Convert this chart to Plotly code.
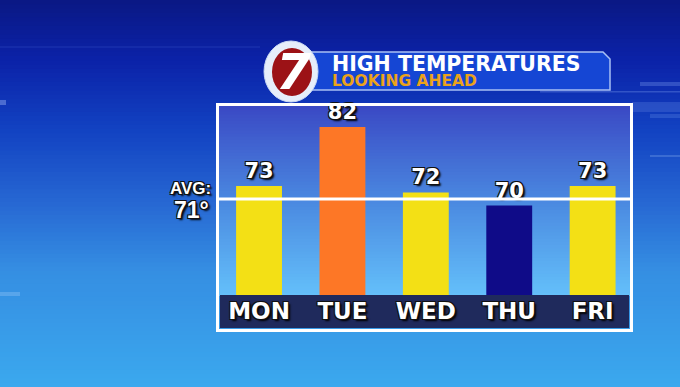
import plotly.graph_objects as go

# ---------------- data ----------------
days = ["MON", "TUE", "WED", "THU", "FRI"]
highs = [73, 82, 72, 70, 73]
bar_colors = ["#f3e015", "#fd7726", "#f3e015", "#0f0b88", "#f3e015"]
avg_temp = 71
avg_label = "AVG:"
title_main = "HIGH TEMPERATURES"
title_sub = "LOOKING AHEAD"
logo_text = "7"

W, H = 680, 387


def px(x):
    return x / W


def py(y):
    return 1 - y / H


def hex2rgb(h):
    h = h.lstrip("#")
    return tuple(int(h[i:i + 2], 16) for i in (0, 2, 4))


def interp(stops, t):
    for (t0, c0), (t1, c1) in zip(stops[:-1], stops[1:]):
        if t0 <= t <= t1:
            f = (t - t0) / (t1 - t0) if t1 > t0 else 0
            a, b = hex2rgb(c0), hex2rgb(c1)
            return "rgb(%d,%d,%d)" % tuple(round(a[i] + (b[i] - a[i]) * f) for i in range(3))
    return stops[-1][1]


def gradient(x0, x1, y0, y1, stops, n=60):
    out = []
    step = (y1 - y0) / n
    for i in range(n):
        ya = y0 + i * step
        yb = ya + step + 0.8
        col = interp(stops, ya + step / 2)
        out.append(dict(type="rect", xref="paper", yref="paper", layer="below",
                        x0=px(x0), x1=px(x1), y0=py(min(yb, y1)), y1=py(ya),
                        fillcolor=col, line=dict(width=0)))
    return out


def prect(x0, x1, y0, y1, color, layer="below"):
    return dict(type="rect", xref="paper", yref="paper", layer=layer,
                x0=px(x0), x1=px(x1), y0=py(y1), y1=py(y0),
                fillcolor=color, line=dict(width=0))


shapes = []
# page background
shapes += gradient(0, W, 0, H, [(0, "#0a1884"), (60, "#0b22a8"), (130, "#1242c2"),
                                (200, "#2666d2"), (270, "#358ee2"), (387, "#3ba8ee")], n=90)
# faint decorative streaks
for (a, b, c, d, col) in [
    (0, 260, 46, 48, "rgba(120,150,255,0.10)"),
    (540, 680, 91, 92.5, "rgba(160,190,255,0.25)"),
    (640, 680, 82, 86, "rgba(160,190,255,0.25)"),
    (632, 680, 102, 112, "rgba(150,190,255,0.18)"),
    (650, 680, 114, 118, "rgba(150,190,255,0.18)"),
    (0, 6, 100, 105, "rgba(190,210,255,0.35)"),
    (0, 20, 292, 296, "rgba(190,220,255,0.25)"),
    (650, 680, 155, 157, "rgba(190,220,255,0.20)"),
]:
    shapes.append(prect(a, b, c, d, col))
# plot panel background
shapes += gradient(219, 630, 105, 296, [(105, "#3a48c4"), (200, "#4a88e0"), (296, "#64c0fa")], n=60)
# bottom label band
shapes.append(prect(220, 629, 295, 328, "#1f2a5c"))
# frame
shapes.append(dict(type="rect", xref="paper", yref="paper", layer="above",
                   x0=px(217.5), x1=px(631.5), y0=py(330.5), y1=py(104.5),
                   fillcolor="rgba(0,0,0,0)", line=dict(color="white", width=3)))
# average line
shapes.append(dict(type="line", xref="paper", yref="y", layer="above",
                   x0=px(219), x1=px(630), y0=avg_temp, y1=avg_temp,
                   line=dict(color="white", width=3)))
# title banner
bx0, bx1, by0, by1, ch = 300, 610, 52, 90, 7
path = "M %f,%f L %f,%f L %f,%f L %f,%f L %f,%f Z" % (
    px(bx0), py(by0), px(bx1 - ch), py(by0), px(bx1), py(by0 + ch),
    px(bx1), py(by1), px(bx0), py(by1))
shapes.append(dict(type="path", xref="paper", yref="paper", layer="above", path=path,
                   fillcolor="#1546d4", line=dict(color="#a8c0f4", width=1.5)))
# logo
shapes.append(dict(type="circle", xref="paper", yref="paper", layer="above",
                   x0=px(264), x1=px(318), y0=py(102), y1=py(41),
                   fillcolor="#e6eefa", line=dict(color="#c8d8f4", width=1)))
shapes.append(dict(type="circle", xref="paper", yref="paper", layer="above",
                   x0=px(272), x1=px(312), y0=py(96), y1=py(48),
                   fillcolor="#9c1216", line=dict(width=0)))

outline = "-1px -1px 0 #111, 1px -1px 0 #111, -1px 1px 0 #111, 1px 1px 0 #111, 2px 2px 2px #000"

fig = go.Figure()
fig.add_trace(go.Bar(
    x=days, y=highs, marker=dict(color=bar_colors, line=dict(width=0)),
    width=0.55, texttemplate="%{y}", textposition="outside", cliponaxis=False,
    constraintext="none",
    textfont=dict(family="DejaVu Sans", size=21, color="white", weight="bold", shadow=outline),
    hoverinfo="skip",
))

title_text = ("<span style='font-size:20.5px'>%s</span><br>"
              "<span style='font-size:15.5px;color:#eba21a'>%s</span>" % (title_main, title_sub))

annotations = [
    dict(text=title_text, x=px(331), y=py(70.5), xref="paper", yref="paper",
         xanchor="left", yanchor="middle", align="left", showarrow=False, borderpad=0,
         font=dict(family="DejaVu Sans", size=11.8, color="white", weight="bold")),
    dict(text=logo_text, x=px(293), y=py(72), xref="paper", yref="paper",
         xanchor="center", yanchor="middle", showarrow=False,
         font=dict(family="DejaVu Sans", size=50, color="white", weight="bold", style="italic")),
    dict(text=avg_label, x=px(213), y=py(188), xref="paper", yref="paper",
         xanchor="right", yanchor="middle", showarrow=False,
         font=dict(family="Liberation Sans", size=17, color="white", weight="bold", shadow=outline)),
    dict(text="%d°" % avg_temp, x=px(211), y=py(210), xref="paper", yref="paper",
         xanchor="right", yanchor="middle", showarrow=False,
         font=dict(family="Liberation Sans", size=23, color="white", weight="bold", shadow=outline)),
]

fig.update_layout(
    width=W, height=H, margin=dict(l=0, r=0, t=0, b=0),
    paper_bgcolor="rgba(0,0,0,0)", plot_bgcolor="rgba(0,0,0,0)",
    showlegend=False, shapes=shapes, annotations=annotations,
    xaxis=dict(domain=[px(219), px(630)], range=[-0.48, 4.448], type="category",
               showgrid=False, zeroline=False, showline=False, ticks="",
               automargin=False, fixedrange=True,
               tickfont=dict(family="DejaVu Sans", size=23, color="white", weight="bold", shadow=outline)),
    yaxis=dict(domain=[py(295), py(106)], range=[56.34, 85.2], visible=False,
               automargin=False, fixedrange=True),
)

fig.write_html("out.html", config=dict(displayModeBar=False))
